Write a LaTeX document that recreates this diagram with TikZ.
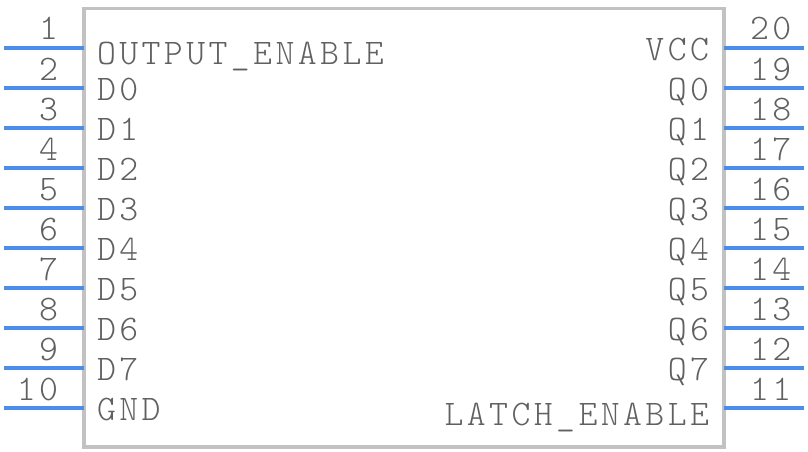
\documentclass[tikz,border=0pt]{standalone}
\usepackage{fontspec}
\newfontfamily\pinfont{Latin Modern Mono Light}[LetterSpace=9.5]
\definecolor{boxgray}{RGB}{194,194,194}
\definecolor{pinblue}{RGB}{74,141,236}
\definecolor{txtgray}{RGB}{96,96,96}
\tikzset{
  icbox/.style={draw=boxgray, line width=3.5pt, fill=white, rectangle, inner sep=0pt, outer sep=0pt,
    minimum width=640pt, minimum height=438.5pt, anchor=north west},
  pinline/.style={draw=pinblue, line width=3.2pt},
  lbl/.style={inner sep=0pt, outer sep=0pt, text=txtgray, font=\pinfont\fontsize{36}{36}\selectfont},
}
\begin{document}
\begin{tikzpicture}[x=1pt,y=-1pt]
\useasboundingbox (0,0) rectangle (808,452);
\node[icbox] (ic) at (84,8.5) {};
% left pins 1..10
\foreach \k in {1,...,10}{
  \coordinate (pl\k) at (4,{48+40*(\k-1)});
  \draw[pinline] (pl\k) -- (pl\k -| ic.west);
  \node[lbl, anchor=base east] (nl\k) at (58,{40+40*(\k-1)}) {\k};
}
% right pins 20..11
\foreach \k in {11,...,20}{
  \coordinate (pr\k) at (804,{48+40*(20-\k)});
  \draw[pinline] (pr\k) -- (pr\k -| ic.east);
  \node[lbl, anchor=base west] (nr\k) at (750,{40+40*(20-\k)}) {\k};
}
% left labels
\node[lbl, anchor=base west] (lOE) at (97,65) {OUTPUT\_ENABLE};
\foreach \i in {0,...,7}{
  \node[lbl, anchor=base west] (lD\i) at (97,{100+40*\i}) {D\i};
}
\node[lbl, anchor=base west] (lGND) at (97,420) {GND};
% right labels
\node[lbl, anchor=base east] (rVCC) at (709,60) {VCC};
\foreach \i in {0,...,7}{
  \node[lbl, anchor=base east] (rQ\i) at (709,{100+40*\i}) {Q\i};
}
\node[lbl, anchor=base east] (rLE) at (709,425) {LATCH\_ENABLE};
\end{tikzpicture}
\end{document}
